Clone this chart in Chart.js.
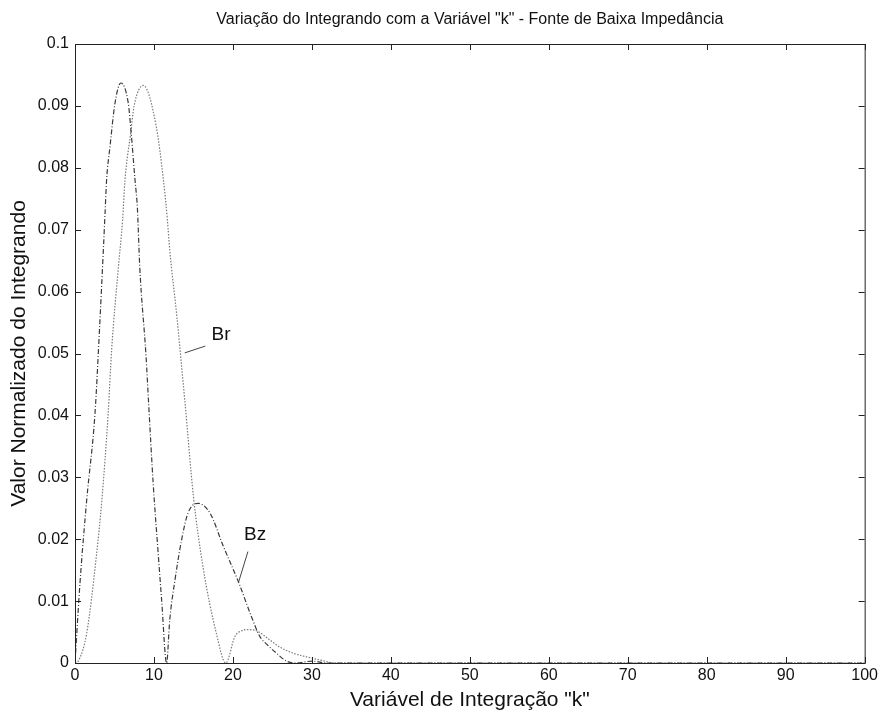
<!DOCTYPE html>
<html>
<head>
<meta charset="utf-8">
<script src="https://cdn.jsdelivr.net/npm/chart.js@4"></script>
<style>
  html, body { margin: 0; padding: 0; background: #fff; }
  #wrap { width: 881px; height: 713px; }
</style>
</head>
<body>
<div id="wrap"><canvas id="chart" width="881" height="713"></canvas></div>
<script>
// values
const bzK = [0, 0.63, 1.48, 2.53, 3.08, 3.59, 3.8, 4.0, 4.43, 5.06, 5.8, 6.75, 7.05, 7.6, 7.9, 8.2, 9.0, 9.3, 9.9, 10.5, 10.97, 11.6,
  12.0, 12.66, 13.5, 14.3, 15.6, 17.1, 18.8, 20.7, 22.4, 23.4, 24.3, 25.5, 26.8, 28, 30, 32, 100];
const bzVal = [0, 0.0129, 0.0263, 0.0403, 0.0533, 0.0667, 0.0725, 0.078, 0.0834, 0.0904, 0.0937, 0.0904, 0.0866, 0.078, 0.0735, 0.064, 0.0495, 0.0425, 0.029, 0.0183, 0.0102, 0,
  0.007, 0.0134, 0.0199, 0.0242, 0.0258, 0.0242, 0.0188, 0.0131, 0.0073, 0.0043, 0.003, 0.0016, 0.0003, 0, 0.0003, 0, 0];

const brK = [0, 0.5, 1.48, 2.7, 3.4, 4.2, 4.64, 5.5, 6.03, 6.33, 7.05, 7.47, 8.65, 10.3, 11.2, 11.7, 12.0, 12.9, 13.5, 13.9, 15.0, 16.2, 17.9, 19.1,
  20.25, 21.1, 21.9, 23.0, 24.7, 25.9, 27.6, 29.3, 31, 33, 100];
const brVal = [0, 0.0005, 0.0048, 0.0172, 0.0263, 0.0403, 0.0506, 0.064, 0.0716, 0.078, 0.0856, 0.0899, 0.0933, 0.0866, 0.078, 0.0716, 0.0667, 0.056, 0.0479, 0.0425, 0.0269, 0.0156, 0.0048, 0,
  0.0043, 0.0052, 0.0054, 0.0052, 0.0037, 0.0026, 0.0016, 0.001, 0.0005, 0, 0];

const xTicks = [0, 10, 20, 30, 40, 50, 60, 70, 80, 90, 100];
const yTickLabels = ["0", "0.01", "0.02", "0.03", "0.04", "0.05", "0.06", "0.07", "0.08", "0.09", "0.1"];

const FONT = "'Liberation Sans', Arial, sans-serif";

function pts(ks, vs) { return ks.map((k, i) => ({ x: k, y: vs[i] })); }

// box, inward ticks, titles and curve labels
const matlabAxes = {
  id: "matlabAxes",
  afterDraw(chart) {
    const { ctx, chartArea: a, scales } = chart;
    const sx = scales.x, sy = scales.y;
    ctx.save();
    ctx.strokeStyle = "#222";
    ctx.lineWidth = 1;
    ctx.strokeRect(a.left + 0.5, a.top + 0.5, a.right - a.left, a.bottom - a.top);
    ctx.beginPath();
    xTicks.forEach((v) => {
      const px = Math.round(sx.getPixelForValue(v)) + 0.5;
      ctx.moveTo(px, a.bottom); ctx.lineTo(px, a.bottom - 6);
      ctx.moveTo(px, a.top); ctx.lineTo(px, a.top + 6);
    });
    yTickLabels.forEach((_, i) => {
      const py = Math.round(sy.getPixelForValue(i * 0.01)) + 0.5;
      ctx.moveTo(a.left, py); ctx.lineTo(a.left + 6, py);
      ctx.moveTo(a.right, py); ctx.lineTo(a.right - 6, py);
    });
    ctx.stroke();

    ctx.fillStyle = "#111";
    ctx.textAlign = "center";
    ctx.textBaseline = "middle";
    ctx.font = "16px " + FONT;
    ctx.fillText('Variação do Integrando com a Variável "k" - Fonte de Baixa Impedância', (a.left + a.right) / 2, 20);

    ctx.font = "21px " + FONT;
    ctx.fillText('Variável de Integração "k"', (a.left + a.right) / 2, 700);
    ctx.save();
    ctx.translate(19, (a.top + a.bottom) / 2);
    ctx.rotate(-Math.PI / 2);
    ctx.fillText("Valor Normalizado do Integrando", 0, 0);
    ctx.restore();

    // curve labels with leader lines
    ctx.font = "19px " + FONT;
    ctx.textAlign = "left";
    ctx.fillText("Br", sx.getPixelForValue(17.3), sy.getPixelForValue(0.0531));
    ctx.fillText("Bz", sx.getPixelForValue(21.4), sy.getPixelForValue(0.0207));
    ctx.strokeStyle = "#444";
    ctx.beginPath();
    ctx.moveTo(sx.getPixelForValue(13.9), sy.getPixelForValue(0.0501));
    ctx.lineTo(sx.getPixelForValue(16.5), sy.getPixelForValue(0.0512));
    ctx.moveTo(sx.getPixelForValue(21.9), sy.getPixelForValue(0.0180));
    ctx.lineTo(sx.getPixelForValue(20.7), sy.getPixelForValue(0.0130));
    ctx.stroke();
    ctx.restore();
  },
};

new Chart(document.getElementById("chart"), {
  type: "line",
  data: {
    datasets: [
      { label: "Bz", data: pts(bzK, bzVal), borderColor: "#3a3a3a", borderWidth: 1.2, borderDash: [5, 2, 1, 2], pointRadius: 0, cubicInterpolationMode: "monotone", fill: false },
      { label: "Br", data: pts(brK, brVal), borderColor: "#7a7a7a", borderWidth: 1.2, borderDash: [1.5, 1.5], pointRadius: 0, cubicInterpolationMode: "monotone", fill: false },
    ],
  },
  options: {
    responsive: false,
    animation: false,
    layout: { padding: { top: 44, right: 16, left: 0, bottom: 0 } },
    plugins: { legend: { display: false }, tooltip: { enabled: false } },
    scales: {
      x: {
        type: "linear", min: 0, max: 100,
        afterBuildTicks: (s) => { s.ticks = xTicks.map((v) => ({ value: v })); },
        afterFit: (s) => { s.height = 50; },
        grid: { display: false, drawTicks: false },
        border: { display: false },
        ticks: { color: "#111", font: { family: FONT, size: 16 }, padding: 3, maxRotation: 0 },
      },
      y: {
        min: 0, max: 0.1,
        afterBuildTicks: (s) => { s.ticks = yTickLabels.map((_, i) => ({ value: i * 0.01 })); },
        afterFit: (s) => { s.width = 75; },
        grid: { display: false, drawTicks: false },
        border: { display: false },
        ticks: { color: "#111", font: { family: FONT, size: 16 }, padding: 6, callback: (v, i) => yTickLabels[i] },
      },
    },
  },
  plugins: [matlabAxes],
});
</script>
</body>
</html>
